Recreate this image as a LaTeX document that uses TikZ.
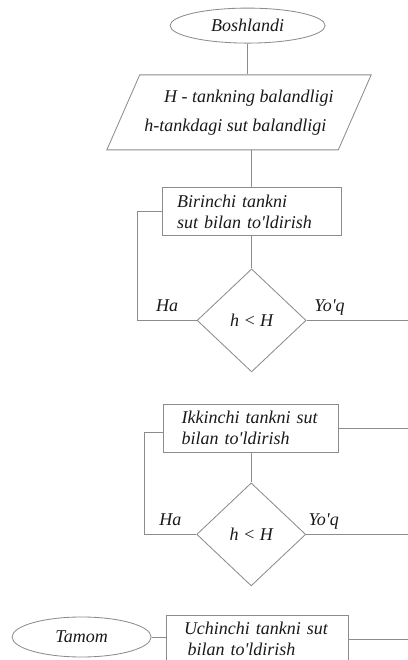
\documentclass[tikz,border=0pt]{standalone}
\usepackage{fontspec}
\setmainfont{Liberation Serif}
\usetikzlibrary{shapes.geometric}

\begin{document}
\begin{tikzpicture}[every node/.style={font=\fontsize{12.8}{15}\selectfont\itshape, text=black!90},
  wire/.style={draw=black!45, line width=0.6pt},
  term/.style={ellipse, wire, inner sep=0pt},
  io/.style={trapezium, trapezium left angle=59, trapezium right angle=121, trapezium stretches,
             wire, minimum width=6.2cm, minimum height=1.875cm, align=left},
  proc/.style={rectangle, wire, align=left, minimum height=1.2cm, inner xsep=0.45cm},
  test/.style={diamond, wire, inner sep=0pt, minimum width=2.725cm, minimum height=2.575cm},
  lbl/.style={anchor=base, yshift=0.22cm}]

\useasboundingbox (0,0) rectangle (10.2,16.5);
\clip (0,0) rectangle (10.2,16.5);
\coordinate (rim) at (10.4,0);

\node[term, minimum width=3.875cm, minimum height=0.875cm] (start) at (6.19,15.86) {Boshlandi};
\node[io] (data) at (5.975,13.69)
     {\hspace*{1.1em}H - tankning balandligi\\[5.6pt]h-tankdagi sut balandligi};
\node[proc, inner xsep=0.375cm, text width=3.725cm] (fill1) at (6.29,11.21)
     {Birinchi tankni\\sut bilan to\textquotesingle ldirish};
\node[test] (cmp1) at (6.29,8.49) {h < H};
\node[proc, text width=3.475cm] (fill2) at (6.28,5.8)
     {Ikkinchi tankni sut\\bilan to\textquotesingle ldirish};
\node[test] (cmp2) at (6.28,3.14) {h < H};
\node[proc, text width=3.65cm] (fill3) at (6.425,0.525)
     {Uchinchi tankni sut\\\hspace*{0.2em}bilan to\textquotesingle ldirish};
\node[term, minimum width=3.475cm, minimum height=1cm] (stop) at (2.04,0.575) {Tamom};

\draw[wire] (start.south) -- (start.south |- data.north);
\draw[wire] (data.south -| fill1.north) -- (fill1.north);
\draw[wire] (fill1.south) -- (cmp1.north);
\draw[wire] (fill1.west) -- ++(-0.6,0) |- node[lbl, pos=0.75] {Ha} (cmp1.west);
\draw[wire] (cmp1.east) -- node[lbl, pos=0.21] {Yo\textquotesingle q} (cmp1.east -| rim);

\draw[wire] (fill2.east) -- (fill2.east -| rim);
\draw[wire] ([yshift=-0.1cm]fill2.west) -- ++(-0.475,0) |- node[lbl, pos=0.75] {Ha} (cmp2.west);
\draw[wire] (fill2.south) -- (cmp2.north);
\draw[wire] (cmp2.east) -- node[lbl, pos=0.16] {Yo\textquotesingle q} (cmp2.east -| rim);

\draw[wire] (stop.east) -- (stop.east -| fill3.west);
\draw[wire] (fill3.east) -- (fill3.east -| rim);
\end{tikzpicture}
\end{document}
